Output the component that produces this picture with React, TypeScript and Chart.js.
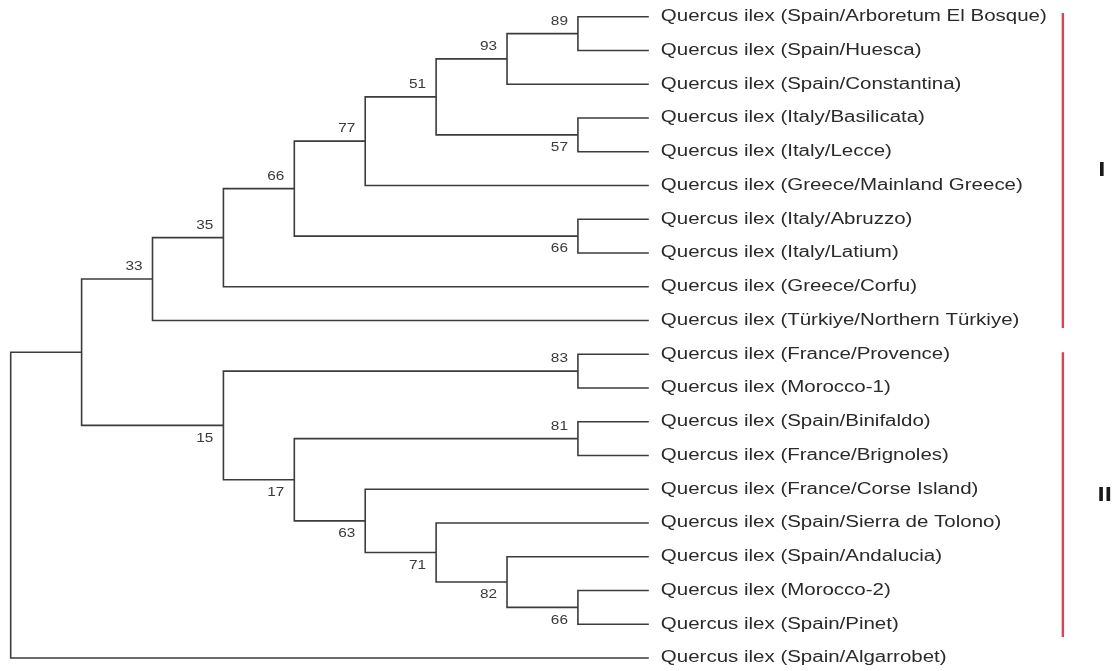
import React, { useEffect, useRef } from 'react';
import { Chart, registerables } from 'chart.js';

Chart.register(...registerables);

// ---- data ----
const leafNames = [
  'Quercus ilex (Spain/Arboretum El Bosque)',
  'Quercus ilex (Spain/Huesca)',
  'Quercus ilex (Spain/Constantina)',
  'Quercus ilex (Italy/Basilicata)',
  'Quercus ilex (Italy/Lecce)',
  'Quercus ilex (Greece/Mainland Greece)',
  'Quercus ilex (Italy/Abruzzo)',
  'Quercus ilex (Italy/Latium)',
  'Quercus ilex (Greece/Corfu)',
  'Quercus ilex (Türkiye/Northern Türkiye)',
  'Quercus ilex (France/Provence)',
  'Quercus ilex (Morocco-1)',
  'Quercus ilex (Spain/Binifaldo)',
  'Quercus ilex (France/Brignoles)',
  'Quercus ilex (France/Corse Island)',
  'Quercus ilex (Spain/Sierra de Tolono)',
  'Quercus ilex (Spain/Andalucia)',
  'Quercus ilex (Morocco-2)',
  'Quercus ilex (Spain/Pinet)',
  'Quercus ilex (Spain/Algarrobet)',
];
const leafDepth = 9;
const leafLabelX = 9.17;

const nodeIds = ['n89', 'n93', 'n57', 'n51', 'n77', 'n66b', 'n66a', 'n35', 'n33', 'n83', 'n81', 'n66c', 'n82', 'n71', 'n63', 'n17', 'n15', 'nA', 'root'];
const nodeChildren = [
  ['L0', 'L1'], ['n89', 'L2'], ['L3', 'L4'], ['n93', 'n57'], ['n51', 'L5'],
  ['L6', 'L7'], ['n77', 'n66b'], ['n66a', 'L8'], ['n35', 'L9'],
  ['L10', 'L11'], ['L12', 'L13'], ['L17', 'L18'], ['L16', 'n66c'], ['L15', 'n82'],
  ['L14', 'n71'], ['n81', 'n63'], ['n83', 'n17'], ['n33', 'n15'], ['nA', 'L19'],
];
const nodeDepths = [8, 7, 8, 6, 5, 8, 4, 3, 2, 8, 8, 8, 7, 6, 5, 4, 3, 1, 0];
const nodeSupport = ['89', '93', '57', '51', '77', '66', '66', '35', '33', '83', '81', '66', '82', '71', '63', '17', '15', '', ''];
const supportSide = ['above', 'above', 'below', 'above', 'above', 'below', 'above', 'above', 'above', 'above', 'above', 'below', 'below', 'below', 'below', 'below', 'below', '', ''];

const groupNames = ['I', 'II'];
const groupBarX = 14.84;
const groupStart = [-0.11, 9.94];
const groupEnd = [9.22, 18.38];
const groupLabelX = [15.39, 15.43];
const groupLabelY = [4.57, 14.2];

// ---- tree geometry in data units ----
type P = { x: number; y: number };
const posCache: Record<string, P> = {};
function pos(id: string): P {
  if (posCache[id]) return posCache[id];
  let p: P;
  if (id.startsWith('L')) {
    p = { x: leafDepth, y: Number(id.slice(1)) };
  } else {
    const k = nodeIds.indexOf(id);
    const ch = nodeChildren[k].map(pos);
    p = { x: nodeDepths[k], y: ch.reduce((s, c) => s + c.y, 0) / ch.length };
  }
  posCache[id] = p;
  return p;
}

const LINE = '#3c3c3c';
const RED = '#d2465a';

const treeText = {
  id: 'treeText',
  afterDatasetsDraw(chart: any) {
    const { ctx, scales } = chart;
    const xs = scales.x;
    const ys = scales.y;
    const SX = 1.28;
    ctx.save();
    ctx.textBaseline = 'middle';
    // leaf labels
    ctx.fillStyle = '#2a2a2a';
    ctx.font = '16px "Liberation Sans", Arial, sans-serif';
    ctx.textAlign = 'left';
    leafNames.forEach((name, i) => {
      ctx.save();
      ctx.translate(xs.getPixelForValue(leafLabelX), ys.getPixelForValue(i));
      ctx.scale(SX, 1);
      ctx.fillText(name, 0, 0);
      ctx.restore();
    });
    // support values
    ctx.fillStyle = '#3a3a3a';
    ctx.font = '12px "Liberation Sans", Arial, sans-serif';
    ctx.textAlign = 'right';
    nodeIds.forEach((id, k) => {
      if (!nodeSupport[k]) return;
      const p = pos(id);
      // find parent branch y (node's own y)
      const px = xs.getPixelForValue(p.x) - 10;
      const py = ys.getPixelForValue(p.y) + (supportSide[k] === 'above' ? -12 : 13);
      ctx.save();
      ctx.translate(px, py);
      ctx.scale(SX, 1);
      ctx.fillText(nodeSupport[k], 0, 0);
      ctx.restore();
    });
    // group labels
    ctx.fillStyle = '#1a1a1a';
    ctx.font = 'bold 20px "Liberation Sans", Arial, sans-serif';
    ctx.textAlign = 'center';
    groupNames.forEach((g, i) => {
      ctx.save();
      ctx.translate(xs.getPixelForValue(groupLabelX[i]), ys.getPixelForValue(groupLabelY[i]));
      ctx.scale(SX, 1);
      ctx.fillText(g, 0, 0);
      ctx.restore();
    });
    ctx.restore();
  },
};

export default function App() {
  const ref = useRef<HTMLCanvasElement | null>(null);
  useEffect(() => {
    if (!ref.current) return;
    const datasets: any[] = nodeIds.map((id, k) => {
      const n = pos(id);
      const [a, b] = nodeChildren[k].map(pos);
      return {
        data: [
          { x: a.x, y: a.y },
          { x: n.x, y: a.y },
          { x: n.x, y: b.y },
          { x: b.x, y: b.y },
        ],
        showLine: true,
        borderColor: LINE,
        borderWidth: 1.6,
        pointRadius: 0,
        fill: false,
        tension: 0,
      };
    });
    groupNames.forEach((g, i) => {
      datasets.push({
        data: [
          { x: groupBarX, y: groupStart[i] },
          { x: groupBarX, y: groupEnd[i] },
        ],
        showLine: true,
        borderColor: RED,
        borderWidth: 2.4,
        pointRadius: 0,
        fill: false,
      });
    });
    const chart = new Chart(ref.current, {
      type: 'scatter',
      data: { datasets },
      options: {
        animation: false,
        responsive: false,
        layout: { padding: 0 },
        plugins: { legend: { display: false }, tooltip: { enabled: false } },
        scales: {
          x: { type: 'linear', min: -0.151, max: 15.575, display: false },
          y: { type: 'linear', min: -0.495, max: 19.386, reverse: true, display: false },
        },
      },
      plugins: [treeText],
    });
    return () => chart.destroy();
  }, []);
  return (
    <div style={{ position: 'fixed', left: 0, top: 0, width: 1115, height: 671, background: '#fff' }}>
      <canvas ref={ref} width={1115} height={671} style={{ display: 'block' }} />
    </div>
  );
}
